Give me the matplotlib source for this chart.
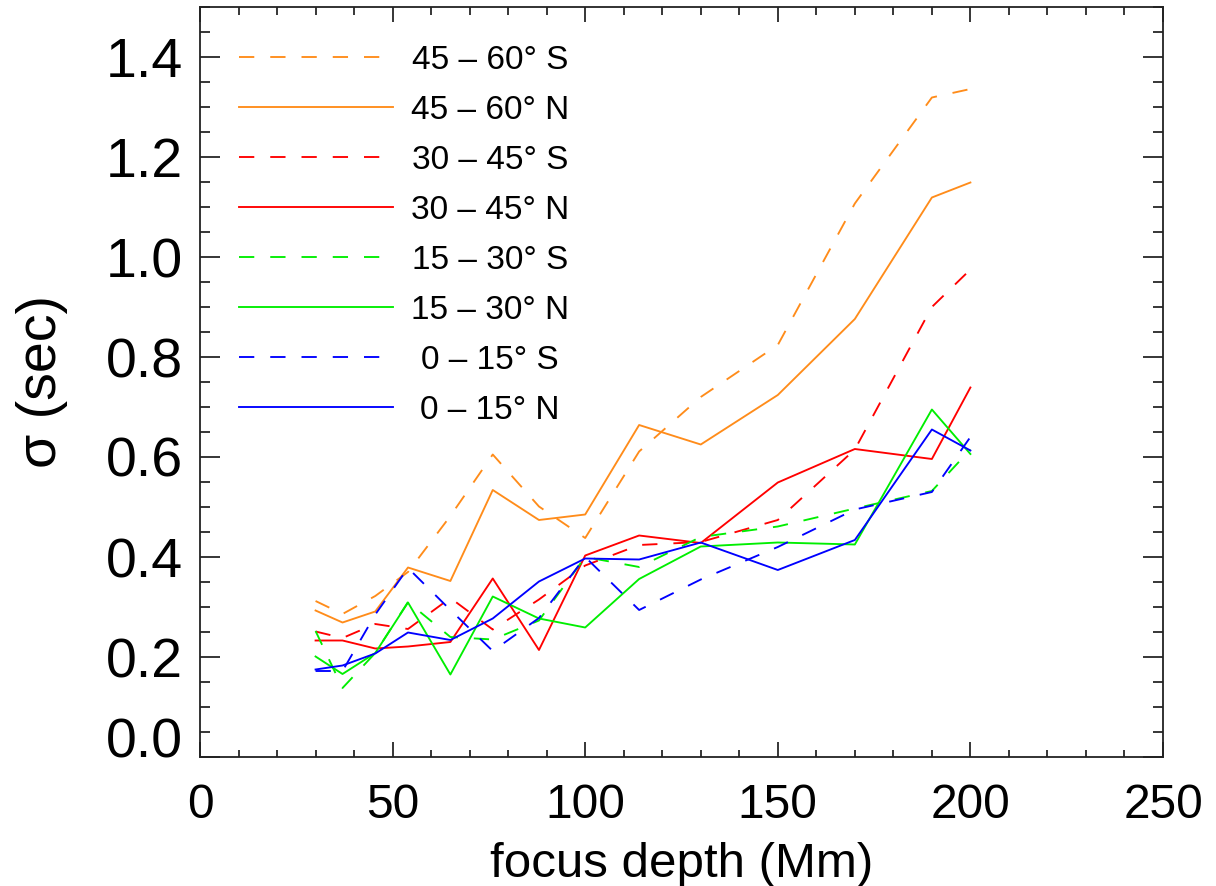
import matplotlib
matplotlib.use("Agg")
import matplotlib.pyplot as plt
from matplotlib.ticker import MultipleLocator, FixedLocator

plt.rcParams['font.family'] = ['Liberation Sans', 'DejaVu Sans']
plt.rcParams['lines.scale_dashes'] = False

# ---- data ----
depth = [30, 37, 45.5, 54, 65, 76, 88, 100, 114, 130, 150, 170, 190, 200]

sig_45_60_S = [0.312, 0.286, 0.322, 0.370, 0.482, 0.605, 0.501, 0.438, 0.611, 0.720, 0.824, 1.107, 1.319, 1.336]
sig_45_60_N = [0.293, 0.269, 0.291, 0.379, 0.352, 0.534, 0.474, 0.485, 0.664, 0.625, 0.724, 0.876, 1.119, 1.149]
sig_30_45_S = [0.251, 0.238, 0.266, 0.256, 0.318, 0.255, 0.315, 0.383, 0.424, 0.430, 0.474, 0.615, 0.900, 0.975]
sig_30_45_N = [0.233, 0.233, 0.217, 0.221, 0.230, 0.357, 0.214, 0.403, 0.443, 0.428, 0.549, 0.616, 0.596, 0.739]
sig_15_30_S = [0.252, 0.138, 0.208, 0.310, 0.240, 0.235, 0.273, 0.400, 0.380, 0.440, 0.461, 0.497, 0.532, 0.615]
sig_15_30_N = [0.201, 0.166, 0.208, 0.309, 0.165, 0.321, 0.277, 0.259, 0.356, 0.421, 0.429, 0.425, 0.695, 0.606]
sig_0_15_S = [0.172, 0.172, 0.285, 0.378, 0.294, 0.212, 0.278, 0.400, 0.294, 0.355, 0.420, 0.495, 0.530, 0.640]
sig_0_15_N = [0.175, 0.183, 0.207, 0.249, 0.234, 0.277, 0.351, 0.397, 0.395, 0.429, 0.374, 0.434, 0.655, 0.613]

labels = ["45 \u2013 60\u00b0 S", "45 \u2013 60\u00b0 N",
          "30 \u2013 45\u00b0 S", "30 \u2013 45\u00b0 N",
          "15 \u2013 30\u00b0 S", "15 \u2013 30\u00b0 N",
          "0 \u2013 15\u00b0 S", "0 \u2013 15\u00b0 N"]
series = [sig_45_60_S, sig_45_60_N, sig_30_45_S, sig_30_45_N,
          sig_15_30_S, sig_15_30_N, sig_0_15_S, sig_0_15_N]

xticks = [0, 50, 100, 150, 200, 250]
yticks = [0.0, 0.2, 0.4, 0.6, 0.8, 1.0, 1.2, 1.4]

# ---- styles ----
ORANGE = '#ff8c1a'
colors = [ORANGE, ORANGE, '#ff0000', '#ff0000', '#00ee00', '#00ee00', '#0000ff', '#0000ff']
dashed = [True, False, True, False, True, False, True, False]
DASH = (0, (11, 11.5))
LW = 1.35

fig = plt.figure(figsize=(12.16, 8.86), dpi=100)
ax = fig.add_axes([200/1216, 1 - 757/886, 963/1216, 750/886])

for ys, c, d in zip(series, colors, dashed):
    ax.plot(depth, ys, color=c, lw=LW, linestyle=DASH if d else '-')

ax.set_xlim(0, 250)
ax.set_ylim(0, 1.5)
ax.xaxis.set_major_locator(FixedLocator(xticks))
ax.xaxis.set_minor_locator(MultipleLocator(10))
ax.yaxis.set_major_locator(FixedLocator(yticks))
ax.yaxis.set_minor_locator(MultipleLocator(0.05))
ax.set_xticklabels([str(v) for v in xticks])
ax.set_yticklabels(["%.1f" % v for v in yticks])

for s in ax.spines.values():
    s.set_linewidth(1.3)
    s.set_color('#222222')

ax.tick_params(axis='x', which='major', direction='in', length=10.8, width=1.1,
               top=True, labelsize=34.5, pad=19)
ax.tick_params(axis='x', which='minor', direction='in', length=5.4, width=1.1, top=True)
ax.tick_params(axis='y', which='major', direction='in', length=14.4, width=1.1,
               right=True, labelsize=40, pad=12)
ax.tick_params(axis='y', which='minor', direction='in', length=7.2, width=1.1, right=True)

# the lowest y label sits on the axis
fig.canvas.draw()
ax.yaxis.get_major_ticks()[0].label1.set_verticalalignment('baseline')

ax.set_xlabel("focus depth (Mm)", fontsize=35.5)
ax.xaxis.set_label_coords(0.5, -0.113)
ax.set_ylabel("\u03c3 (sec)", fontsize=40)
ax.yaxis.set_label_coords(-0.137, 0.5)

# ---- legend (drawn inside the axes) ----
x0, x1, xt = 239/963 - 200/963, 393/963 - 200/963, (490 - 200)/963
for k, (lab, c, d) in enumerate(zip(labels, colors, dashed)):
    yy = (1.4 - 0.1*k)/1.5
    ax.plot([x0 + 39/963 - 39/963, x1], [yy, yy], transform=ax.transAxes,
            color=c, lw=LW, linestyle=DASH if d else '-', clip_on=False)
    ax.text(xt, yy, lab, transform=ax.transAxes, fontsize=24,
            ha='center', va='center_baseline')

fig.savefig("out.png", dpi=100)
